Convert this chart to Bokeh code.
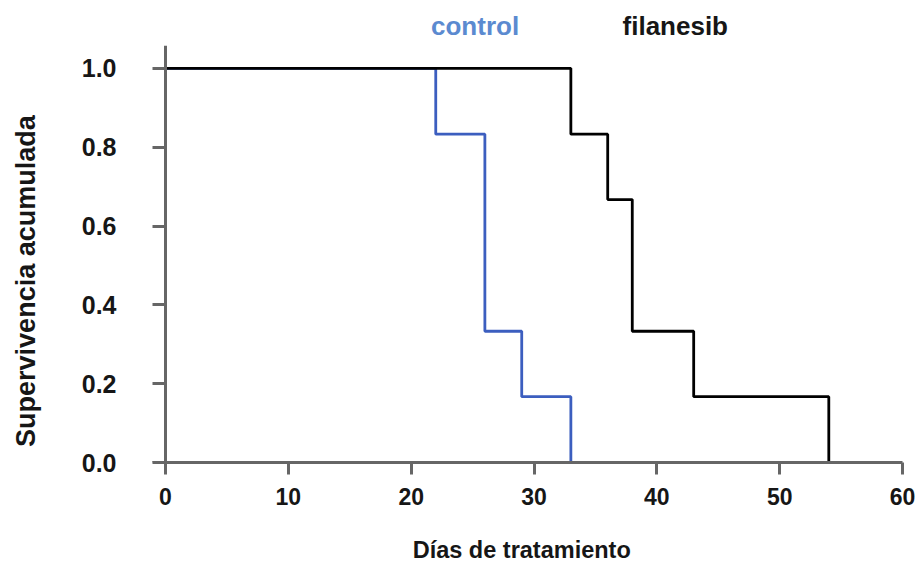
from bokeh.plotting import figure
from bokeh.layouts import column, row
from bokeh.models import Range1d, FixedTicker, LinearAxis
from bokeh.core.properties import value
from bokeh.embed import file_html
from bokeh.resources import INLINE

# Kaplan-Meier survival steps (day of event, survival after event)
control_days = [0, 22, 26, 29, 33]
control_surv = [1.0, 0.833, 0.333, 0.167, 0.0]

filanesib_days = [0, 33, 36, 38, 43, 54]
filanesib_surv = [1.0, 0.833, 0.667, 0.333, 0.167, 0.0]

group_names = ["control", "filanesib"]
x_title = "Días de tratamiento"
y_title = "Supervivencia acumulada"

x_ticks = [0, 10, 20, 30, 40, 50, 60]
y_ticks = [0.0, 0.2, 0.4, 0.6, 0.8, 1.0]

FONT = "Liberation Sans"
TEXT = "#161616"
AXIS_COLOR = "#666666"
CONTROL_LINE = "#3c5ebf"
CONTROL_TEXT = "#5b8ad0"

x_range = Range1d(-1.06, 60)


def bare(width, height, **kw):
    f = figure(width=width, height=height, output_backend="svg", toolbar_location=None,
               x_axis_type=None, y_axis_type=None,
               min_border_top=0, min_border_bottom=0, **kw)
    f.outline_line_color = None
    f.xgrid.grid_line_color = None
    f.ygrid.grid_line_color = None
    return f


# ---- header row holding the group names ----
head = bare(915, 45, x_range=x_range, y_range=Range1d(0, 1),
            min_border_left=152, min_border_right=13)
head.text(x=[25.2, 41.5], y=[0.44, 0.44], text=group_names,
          text_color=[CONTROL_TEXT, TEXT], text_font=value(FONT),
          text_font_style="bold", text_font_size="26px",
          text_align="center", text_baseline="middle")

# ---- vertical axis title ----
side = bare(45, 477, x_range=Range1d(0, 1), y_range=Range1d(0, 1),
            min_border_left=0, min_border_right=0)
side.text(x=[0.56], y=[0.435], text=[y_title], angle=1.5708, text_color=TEXT,
          text_font=value(FONT), text_font_style="bold", text_font_size="27px",
          text_align="center", text_baseline="middle")

# ---- survival plot ----
p = figure(width=870, height=477, output_backend="svg", toolbar_location=None,
           x_range=x_range, y_range=Range1d(0, 1.058),
           min_border_left=107, min_border_right=13,
           min_border_top=0, min_border_bottom=60)
p.outline_line_color = None
p.xgrid.grid_line_color = None
p.ygrid.grid_line_color = None


def km_path(days, surv):
    xs, ys = [days[0]], [surv[0]]
    for d, s in zip(days[1:], surv[1:]):
        xs += [d, d]
        ys += [ys[-1], s]
    return xs, ys


cx, cy = km_path(control_days, control_surv)
fx, fy = km_path(filanesib_days, filanesib_surv)
p.line(cx, cy, line_color=CONTROL_LINE, line_width=2.8)
p.line(fx, fy, line_color="black", line_width=2.8)

# x axis along the bottom of the frame
xa = p.xaxis[0]
xa.ticker = FixedTicker(ticks=x_ticks)
xa.axis_line_color = AXIS_COLOR
xa.axis_line_width = 3
xa.major_tick_line_color = AXIS_COLOR
xa.major_tick_line_width = 3
xa.minor_tick_line_color = None
xa.major_tick_in = 0
xa.major_tick_out = 12
xa.major_label_standoff = 13
xa.major_label_text_font = FONT
xa.major_label_text_font_style = "bold"
xa.major_label_text_font_size = "23px"
xa.major_label_text_color = TEXT

# left axis carries only the tick labels
ya = p.yaxis[0]
ya.ticker = FixedTicker(ticks=y_ticks)
ya.major_label_overrides = {t: f"{t:.1f}" for t in y_ticks}
ya.axis_line_color = None
ya.major_tick_line_color = None
ya.minor_tick_line_color = None
ya.major_tick_in = 0
ya.major_tick_out = 0
ya.major_label_standoff = 36
ya.major_label_text_font = FONT
ya.major_label_text_font_style = "bold"
ya.major_label_text_font_size = "25px"
ya.major_label_text_color = TEXT

# axis line and ticks pinned at day 0
y0 = LinearAxis(ticker=FixedTicker(ticks=y_ticks), fixed_location=0,
                major_label_overrides={t: "" for t in y_ticks},
                axis_line_color=AXIS_COLOR, axis_line_width=3,
                major_tick_line_color=AXIS_COLOR, major_tick_line_width=3,
                minor_tick_line_color=None, major_tick_in=0, major_tick_out=18,
                major_label_standoff=0)
p.add_layout(y0, "left")

# ---- horizontal axis title ----
foot = bare(915, 41, x_range=x_range, y_range=Range1d(0, 1),
            min_border_left=152, min_border_right=13)
foot.text(x=[29.0], y=[0.32], text=[x_title], text_color=TEXT,
          text_font=value(FONT), text_font_style="bold", text_font_size="23.5px",
          text_align="center", text_baseline="middle")

layout = column(head, row(side, p, spacing=0), foot, spacing=0)
open("out.html", "w").write(file_html(layout, INLINE))
